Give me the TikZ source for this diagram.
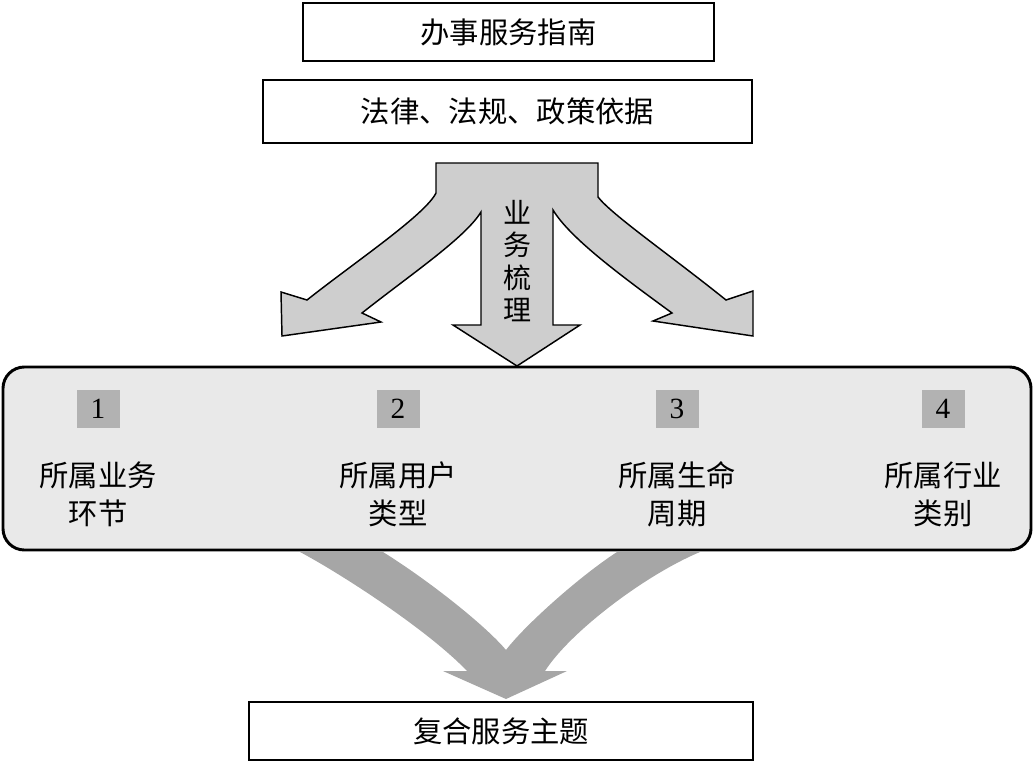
\documentclass[tikz,border=0pt]{standalone}
\usepackage{fontspec}
\setmainfont{Liberation Serif}
\newfontfamily\cjk{Noto Sans CJK SC}
\definecolor{panelgray}{RGB}{233,233,233}
\definecolor{numgray}{RGB}{178,178,178}
\definecolor{arrowlight}{RGB}{206,206,206}
\definecolor{arrowdark}{RGB}{166,166,166}
\begin{document}
\begin{tikzpicture}[x=0.75pt,y=-0.75pt,
  box/.style={draw=black, line width=2pt, fill=white, inner sep=0pt,
    font=\cjk\fontsize{22}{26}\selectfont},
  panel/.style={draw=black, line width=2.2pt, fill=panelgray, rounded corners=16pt,
    minimum width=771pt, minimum height=137.25pt, inner sep=0pt},
  numbox/.style={fill=numgray, minimum width=32.25pt, minimum height=28.5pt, inner sep=0pt,
    font=\fontsize{22}{24}\selectfont},
  lbl/.style={font=\cjk\fontsize{22}{28.5}\selectfont, align=center, inner sep=0pt},
  splitarrow/.style={draw=black, line width=1.1pt, fill=arrowlight, line join=miter},
  mergearrow/.style={fill=arrowdark, draw=none}
]
\useasboundingbox (0,0) rectangle (1035,764);

% top boxes
\node[box, minimum width=308.25pt, minimum height=43.5pt] (guide) at (508.5,32) {办事服务指南};
\node[box, minimum width=366.75pt, minimum height=47.25pt] (law) at (507.5,111.5) {法律、法规、政策依据};

% bottom merging arrow (drawn behind the panel)
\path[mergearrow] (300,552) .. controls (345,576) and (430,632) .. (467,671)
  -- (443,671) -- (506,699) -- (567,671) -- (545,671)
  .. controls (570,632) and (645,575) .. (700,552)
  -- (617,552) .. controls (580,576) and (525,625) .. (506,650)
  .. controls (485,625) and (428,580) .. (383,552) -- cycle;

% panel
\node[panel] (panel) at (517,458.5) {};

% top splitting arrow
\draw[splitarrow] (436,163) -- (598,163) -- (598,197)
  .. controls (612,215) and (670,255) .. (726,300)
  -- (753,291) -- (753,336) -- (653,321) -- (672,313)
  .. controls (620,275) and (570,238) .. (553,210)
  -- (553,325) -- (580,325) -- (517,366) -- (453,325) -- (481,325) -- (481,212)
  .. controls (465,238) and (410,275) .. (362,313)
  -- (381,322) -- (282,336) -- (281,292) -- (307,300)
  .. controls (355,262) and (425,215) .. (436,193) -- cycle;
\node[lbl, font=\cjk\fontsize{21}{24.4}\selectfont] (sort) at (517,261) {业\\务\\梳\\理};

% numbered items
\node[numbox] (n1) at (98,409) {1};
\node[numbox] (n2) at (398,409) {2};
\node[numbox] (n3) at (677,409) {3};
\node[numbox] (n4) at (943,409) {4};
\node[lbl] (t1) at (98,494) {所属业务\\环节};
\node[lbl] (t2) at (398,494) {所属用户\\类型};
\node[lbl] (t3) at (677,494) {所属生命\\周期};
\node[lbl] (t4) at (943,494) {所属行业\\类别};

% bottom box
\node[box, minimum width=378pt, minimum height=43.5pt] (topic) at (501,731) {复合服务主题};
\end{tikzpicture}
\end{document}
